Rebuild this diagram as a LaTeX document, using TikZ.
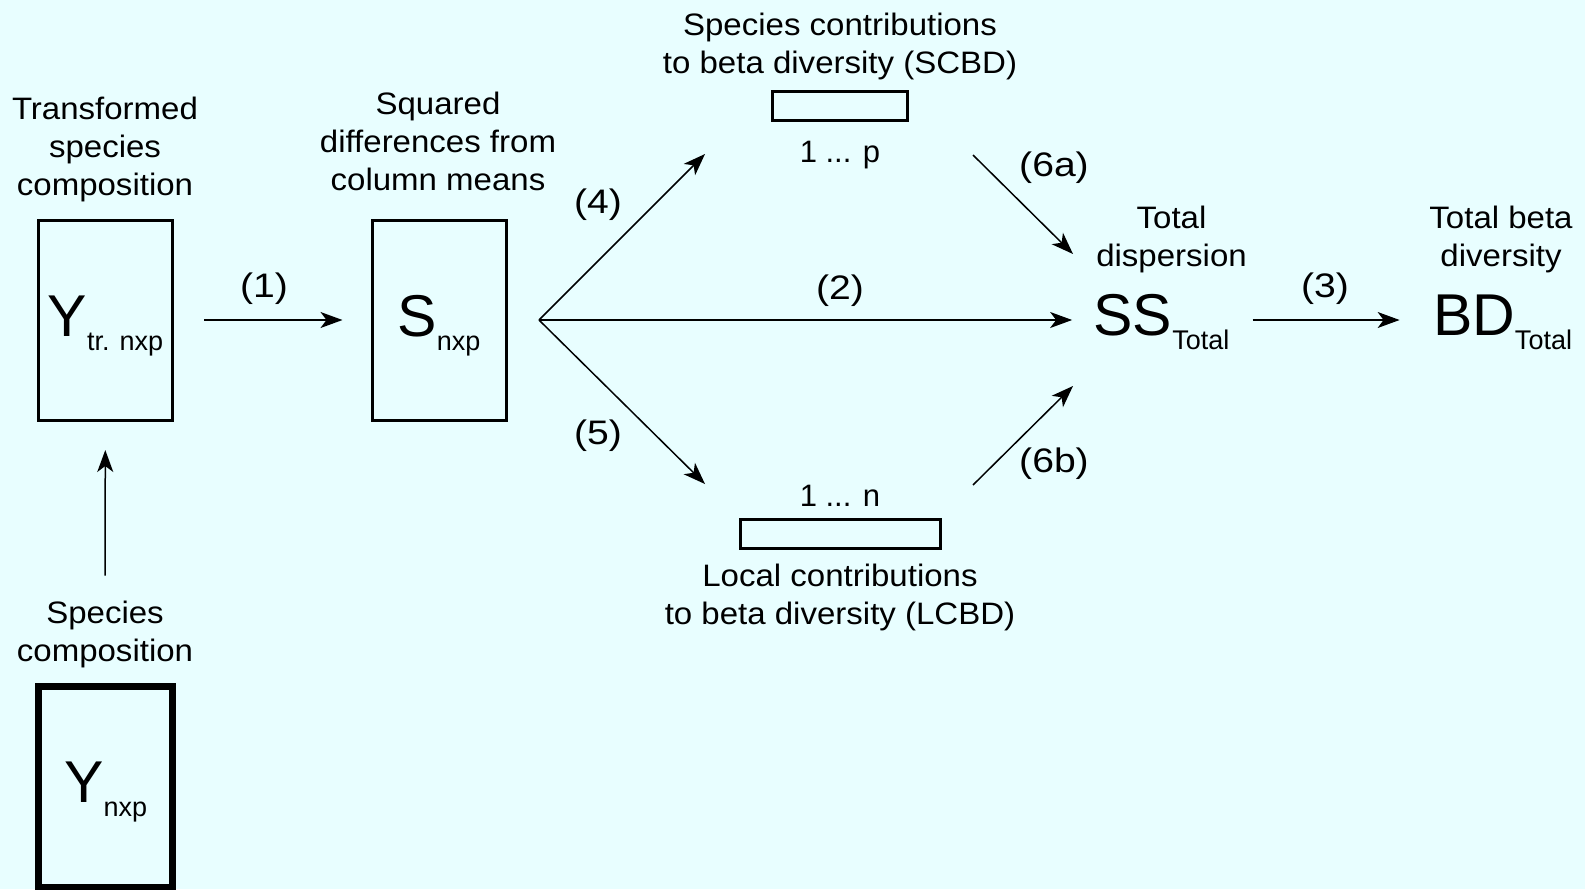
\documentclass[tikz,border=0pt]{standalone}
\usepackage{fontspec}
\setmainfont{Liberation Sans}
\newfontfamily\capfont[FakeStretch=1.065]{Liberation Sans}
\newfontfamily\numfont[FakeStretch=1.15]{Liberation Sans}
\usetikzlibrary{arrows.meta}
\definecolor{bgcyan}{RGB}{232,254,255}
\newcommand{\bigsub}[2]{{\fontsize{29.5}{30}\selectfont #1}\raisebox{-7pt}{\fontsize{13.5}{14}\selectfont #2}}

\begin{document}
\begin{tikzpicture}[x=0.5pt,y=-0.5pt,
  lab/.style={align=center,font=\capfont\fontsize{15.5}{19}\selectfont,inner sep=0pt},
  idx/.style={font=\fontsize{15.5}{19}\selectfont,inner sep=0pt},
  num/.style={font=\numfont\fontsize{17}{19}\selectfont,inner sep=0pt},
  mat/.style={draw,line width=1.5pt,minimum width=67pt,minimum height=100pt,inner sep=0pt,text height=21pt,text depth=5pt},
  bar/.style={draw,line width=1.5pt,minimum height=14.25pt,inner sep=0pt},
  tot/.style={inner sep=0pt,text height=21pt,text depth=6pt},
  arr/.style={line width=0.75pt,-{Stealth[length=11pt,width=8pt,inset=3pt]}}]
\useasboundingbox (0,0) rectangle (1585,889);
\fill[bgcyan] (0,0) rectangle (1585,889);
% matrices and vectors
\node[mat] (ytr) at (105.5,320) {\bigsub{Y}{tr. nxp}};
\node[mat] (s) at (439,320) {\bigsub{S}{nxp}};
\node[mat,line width=3.5pt,minimum height=100.5pt] (y) at (105.75,786.5) {\bigsub{Y}{nxp}};
\node[bar,minimum width=67.25pt] (scbd) at (840,106) {};
\node[bar,minimum width=100pt] (lcbd) at (840,534) {};
\node[tot] (ss) at (1161.4,320) {\bigsub{SS}{Total}};
\node[tot] (bd) at (1502.5,320) {\bigsub{BD}{Total}};
% captions
\node[lab] (ytrlab) at (105,149) {Transformed\\species\\composition};
\node[lab] (slab) at (438,141.7) {Squared\\differences from\\column means};
\node[lab] (scbdlab) at (840,46.4) {Species contributions\\to beta diversity (SCBD)};
\node[idx] (scbdidx) at (840,155) {1 ... p};
\node[idx] (lcbdidx) at (840,495.5) {1 ... n};
\node[lab] (lcbdlab) at (840,597) {Local contributions\\to beta diversity (LCBD)};
\node[lab] (sslab) at (1171.5,239.5) {Total\\dispersion};
\node[lab] (bdlab) at (1501,239.5) {Total beta\\diversity};
\node[lab] (ylab) at (105,634.5) {Species\\composition};
% arrows
\coordinate (fan) at (539,320);
\coordinate (tip4) at (705,154);
\coordinate (tip5) at (705,484);
\coordinate (tail6a) at (973,155);
\coordinate (tip6a) at (1073,254);
\coordinate (tail6b) at (973,485);
\coordinate (tip6b) at (1073,386);
\draw[arr,shorten <=12.5pt,shorten >=14.25pt] (ylab) -- (ytr);
\draw[arr,shorten <=15pt,shorten >=14pt] (ytr) -- (s);
\draw[arr] (fan) -- (tip4);
\draw[arr] (fan) -- (tip5);
\draw[arr,shorten >=10.5pt] (fan) -- (ss);
\draw[arr] (tail6a) -- (tip6a);
\draw[arr] (tail6b) -- (tip6b);
\draw[arr,shorten <=11.5pt,shorten >=16.5pt] (ss) -- (bd);
% step numbers
\node[num] (n1) at (264,289) {(1)};
\node[num] (n2) at (840,291) {(2)};
\node[num] (n3) at (1325,289) {(3)};
\node[num] (n4) at (598,205) {(4)};
\node[num] (n5) at (598,436) {(5)};
\node[num] (n6a) at (1054,168) {(6a)};
\node[num] (n6b) at (1054,464) {(6b)};
\end{tikzpicture}
\end{document}
